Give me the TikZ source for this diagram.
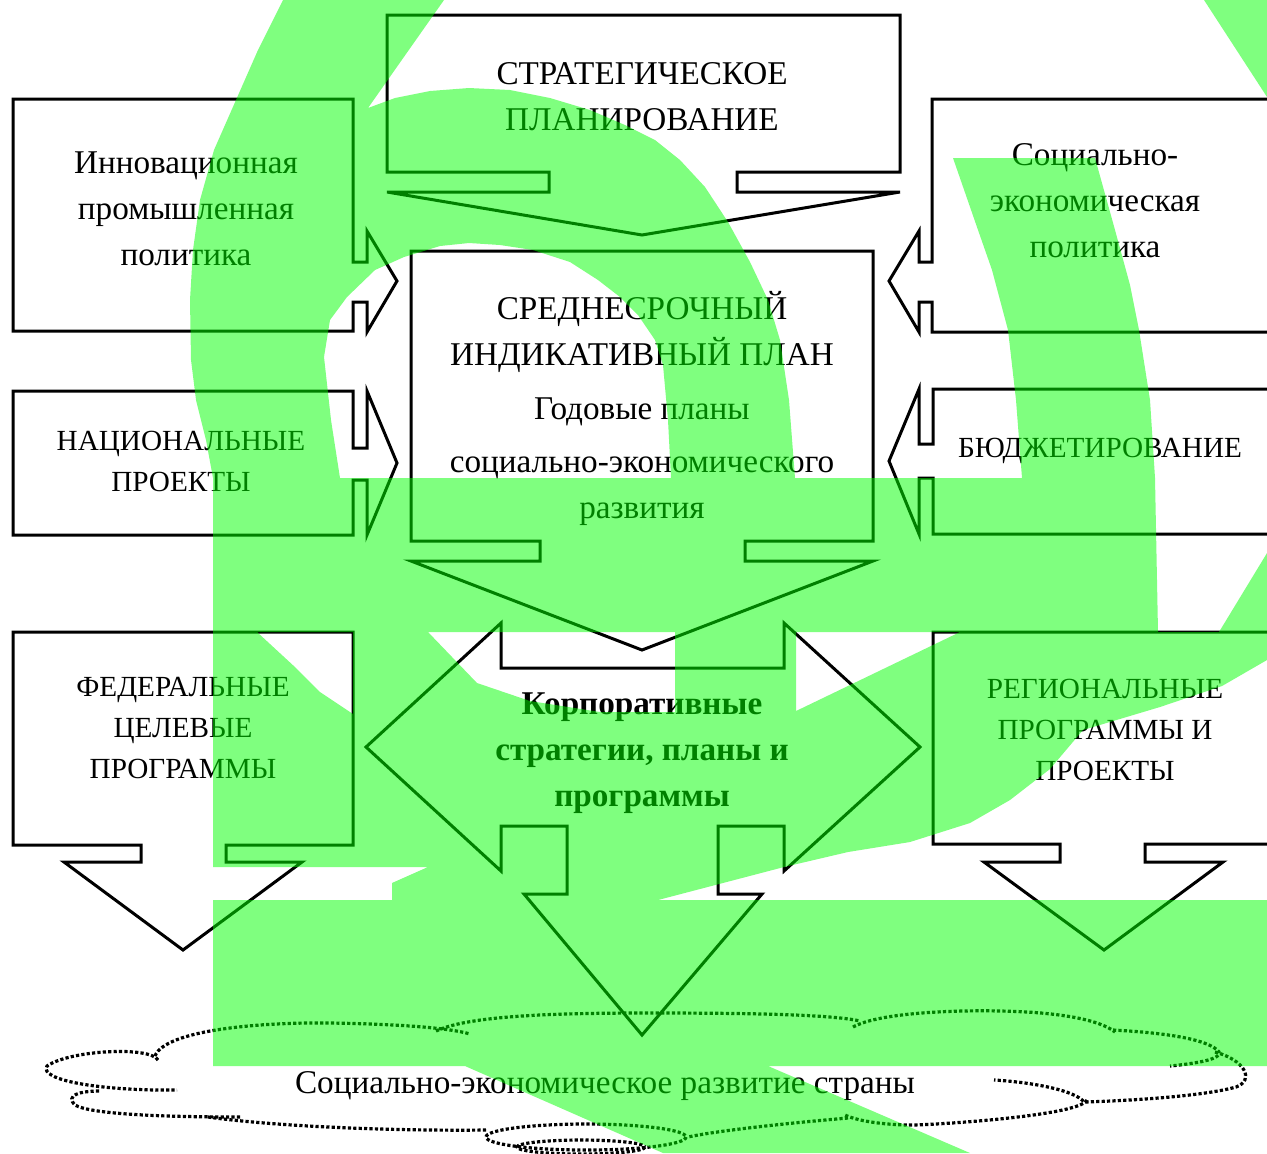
\documentclass[tikz,border=0pt]{standalone}
\usepackage{fontspec}
\setmainfont{Liberation Serif}
\tikzset{>=stealth}
\colorlet{background}{white}
\colorlet{penColor}{black}
\colorlet{stampColor}{green}
\tikzset{
  shapeline/.style={draw=penColor, line width=1.5pt, line join=miter},
  cloudline/.style={draw=penColor, line width=1.6pt, dash pattern=on 1.6pt off 1.1pt},
  bigtext/.style={align=center, font=\fontsize{16.6}{23}\selectfont},
  smalltext/.style={align=center, font=\fontsize{14.6}{20.5}\selectfont},
}
\begin{document}
\begin{tikzpicture}[x=0.5pt,y=-0.5pt]
\useasboundingbox (0,0) rectangle (1267,1153);
\clip (0,0) rectangle (1267,1153);
\fill[background] (0,0) rectangle (1267,1153);
% top
\draw[shapeline] (387,15) -- (900,15) -- (900,172) -- (737,172) -- (737,192) -- (900,192) -- (642,235) -- (387,192) -- (549,192) -- (549,172) -- (387,172) -- cycle;
% left side
\draw[shapeline] (13,99) -- (353,99) -- (353,262) -- (367,262) -- (367,231) -- (397,281) -- (367,332) -- (367,302) -- (353,302) -- (353,331) -- (13,331) -- cycle;
\draw[shapeline] (13,391) -- (353,391) -- (353,448) -- (367,448) -- (367,391) -- (397,463) -- (367,535) -- (367,480) -- (353,480) -- (353,535) -- (13,535) -- cycle;
% right side
\draw[shapeline] (1290,99) -- (932,99) -- (932,262) -- (919,262) -- (919,231) -- (889,281) -- (919,332) -- (919,302) -- (932,302) -- (932,332) -- (1290,332);
\draw[shapeline] (1290,389) -- (933,389) -- (933,444) -- (919,444) -- (919,389) -- (889,461) -- (919,534) -- (919,478) -- (933,478) -- (933,534) -- (1290,534);
% centre
\draw[shapeline] (411,251) -- (873,251) -- (873,541) -- (745,541) -- (745,561) -- (873,561) -- (642,650) -- (411,561) -- (540,561) -- (540,541) -- (411,541) -- cycle;
% lower row
\draw[shapeline] (13,632) -- (353,632) -- (353,845) -- (226,845) -- (226,862) -- (302,862) -- (183,950) -- (64,862) -- (141,862) -- (141,845) -- (13,845) -- cycle;
\draw[shapeline] (1290,632) -- (933,632) -- (933,844) -- (1060,844) -- (1060,862) -- (984,862) -- (1104,950) -- (1223,862) -- (1145,862) -- (1145,844) -- (1290,844);
\draw[shapeline] (366,747) -- (501,623) -- (501,668) -- (784,668) -- (784,623) -- (920,747) -- (784,871) -- (784,826) -- (718,826) -- (718,894) -- (762,894) -- (642,1035) -- (524,894) -- (567,894) -- (567,826) -- (501,826) -- (501,871) -- cycle;
% cloud
\draw[cloudline] (158,1060) .. controls (150,1046) and (70,1050) .. (47,1066) .. controls (38,1080) and (100,1091) .. (177,1090);
\draw[cloudline] (155,1056) .. controls (165,1030) and (260,1022) .. (330,1023) .. controls (400,1024) and (450,1028) .. (470,1034);
\draw[cloudline] (436,1031) .. controls (470,1015) and (560,1013) .. (650,1013) .. controls (740,1013) and (830,1014) .. (860,1021);
\draw[cloudline] (853,1027) .. controls (880,1012) and (960,1010) .. (1000,1011) .. controls (1060,1012) and (1100,1020) .. (1115,1032);
\draw[cloudline] (1113,1030) .. controls (1170,1033) and (1210,1040) .. (1219,1052) .. controls (1222,1060) and (1190,1064) .. (1170,1066);
\draw[cloudline] (1215,1052) .. controls (1245,1060) and (1255,1080) .. (1236,1087) .. controls (1200,1097) and (1120,1101) .. (1084,1102) .. controls (1075,1090) and (1030,1082) .. (994,1080);
\draw[cloudline] (1087,1100) .. controls (1080,1115) and (950,1124) .. (913,1125) .. controls (880,1125) and (855,1120) .. (845,1115);
\draw[cloudline] (848,1118) .. controls (800,1122) and (720,1130) .. (688,1137);
\draw[cloudline] (586,1137) ellipse [x radius=100, y radius=13];
\draw[cloudline] (581,1147) ellipse [x radius=64, y radius=7];
\draw[cloudline] (486,1130) .. controls (400,1131) and (280,1127) .. (208,1117);
\draw[cloudline] (240,1117) .. controls (160,1117) and (90,1114) .. (75,1105) .. controls (65,1095) and (80,1091) .. (100,1091);
% texts
\node[bigtext] (strat) at (642,97) {СТРАТЕГИЧЕСКОЕ\\ПЛАНИРОВАНИЕ};
\node[bigtext] (innov) at (186,209) {Инновационная\\промышленная\\политика};
\node[bigtext] (socpol) at (1095,201) {Социально-\\экономическая\\политика};
\node[bigtext] (midplan) at (642,408) {СРЕДНЕСРОЧНЫЙ\\ИНДИКАТИВНЫЙ ПЛАН\\[4pt]Годовые планы\\[3.5pt]социально-экономического\\развития};
\node[smalltext] (natproj) at (181,461) {НАЦИОНАЛЬНЫЕ\\ПРОЕКТЫ};
\node[smalltext] (budget) at (1100,451) {БЮДЖЕТИРОВАНИЕ};
\node[smalltext] (fedprog) at (183,728) {ФЕДЕРАЛЬНЫЕ\\ЦЕЛЕВЫЕ\\ПРОГРАММЫ};
\node[bigtext, font=\fontsize{16.6}{23}\selectfont\bfseries] (corp) at (642,753) {Корпоративные\\стратегии, планы и\\программы};
\node[smalltext] (regprog) at (1105,730) {РЕГИОНАЛЬНЫЕ\\ПРОГРАММЫ И\\ПРОЕКТЫ};
\node[bigtext] (devel) at (605,1086) {Социально-экономическое развитие страны};
% stamp on top
\fill[stampColor, opacity=0.5, even odd rule]
  (283,0) -- (444,0) -- (368,108) -- (395,98) -- (430,91) -- (469,88) -- (510,90) -- (550,98) -- (590,110) -- (625,125) -- (655,140) -- (680,160) -- (705,187) -- (728,222) -- (750,262) -- (768,300) -- (780,340) -- (789,400) -- (795,478)
  -- (1022,478) -- (1016,400) -- (1008,330) -- (992,270) -- (978,230) -- (953,158) -- (1095,158) -- (1115,230) -- (1130,285) -- (1139,330) -- (1150,400) -- (1155,478) -- (1158,632)
  -- (1219,632) -- (1267,553) -- (1267,660) -- (1222,686) -- (1160,707) -- (1083,730) -- (1050,769) -- (1010,800) -- (970,823) -- (910,842) -- (848,852) -- (784,867) -- (658,900)
  -- (1267,900) -- (1267,1066) -- (768,1066) -- (970,1153) -- (663,1153) -- (465,1066) -- (213,1066) -- (213,900) -- (392,900) -- (392,883) -- (428,867) -- (213,867)
  -- (213,478) -- (206,440) -- (196,400) -- (191,360) -- (190,300) -- (193,250) -- (200,200) -- (214,150) -- (236,100) -- (258,50) -- cycle
  (340,478) -- (331,420) -- (324,357) -- (330,320) -- (347,297) -- (375,270) -- (404,257) -- (440,246) -- (469,243) -- (500,245) -- (533,250) -- (570,262) -- (598,280) -- (620,297) -- (638,315) -- (655,340) -- (663,365) -- (668,420) -- (671,478) -- cycle
  (257,632) -- (353,632) -- (353,714) -- (320,692) -- (296,668) -- cycle
  (428,632) -- (675,632) -- (675,712) -- (600,712) -- (530,701) -- (477,683) -- cycle
  (796,632) -- (960,632) -- (796,711) -- cycle
  (1204,0) -- (1267,0) -- (1267,97) -- cycle;
\end{tikzpicture}
\end{document}
